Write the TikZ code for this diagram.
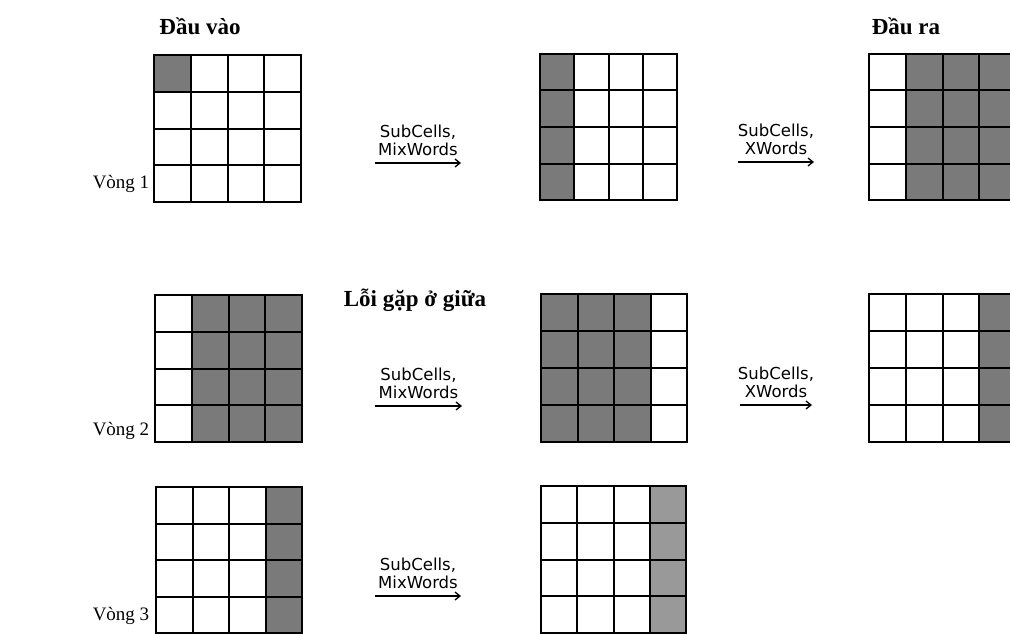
\documentclass[tikz,border=0pt]{standalone}
\usepackage{fontspec}
\setmainfont{Liberation Serif}
\newfontfamily\lblfont{DejaVu Sans}
\usetikzlibrary{arrows.meta}
\tikzset{
  gridline/.style={line width=2pt, black},
  shadedark/.style={fill=black!52},
  shadelight/.style={fill=black!40},
  arr/.style={line width=1.3pt, -{Straight Barb[length=5pt,width=8pt]}},
  oplabel/.style={font=\lblfont\fontsize{16.5}{18}\selectfont, align=center, inner sep=0pt, anchor=south, yshift=7pt},
  header/.style={font=\bfseries\fontsize{23}{26}\selectfont},
  roundlabel/.style={font=\fontsize{19}{22}\selectfont},
}
% #1 x0, #2 y0, #3 x1, #4 y1
\newcommand\mygrid[4]{%
  \draw[gridline] (#1,#2) rectangle (#3,#4);
  \foreach \k in {1,2,3}{%
    \draw[gridline] ({#1+\k*(#3-#1)/4},#2) -- ({#1+\k*(#3-#1)/4},#4);
    \draw[gridline] (#1,{#2+\k*(#4-#2)/4}) -- (#3,{#2+\k*(#4-#2)/4});
  }}
% #1 x0, #2 y0, #3 x1, #4 y1, #5 col start, #6 col end, #7 row start, #8 row end, #9 style
\newcommand\myshade[9]{%
  \fill[#9] ({#1+#5*(#3-#1)/4},{#2+#7*(#4-#2)/4}) rectangle ({#1+#6*(#3-#1)/4},{#2+#8*(#4-#2)/4});}
\begin{document}
\begin{tikzpicture}[x=1pt,y=-1pt]
\useasboundingbox (0,0) rectangle (1010,634);
\clip (0,0) rectangle (1010,634);
\fill[white] (0,0) rectangle (1010,634);

% headers
\node[header] (hin) at (200,26) {Đầu vào};
\node[header] (hout) at (906,26) {Đầu ra};

% round labels
\node[roundlabel] (r1) at (121,184) {Vòng 1};
\node[roundlabel] (r2) at (121,431) {Vòng 2};
\node[roundlabel] (r3) at (121,616) {Vòng 3};

\node[header] (mid) at (415,300) {Lỗi gặp ở giữa};

% row 1
\myshade{154}{55}{301}{202}{0}{1}{0}{1}{shadedark}
\mygrid{154}{55}{301}{202}
\myshade{540}{54}{677}{200}{0}{1}{0}{4}{shadedark}
\mygrid{540}{54}{677}{200}
\myshade{869}{54}{1016}{200}{1}{4}{0}{4}{shadedark}
\mygrid{869}{54}{1016}{200}

% row 2
\myshade{155}{295}{302}{442}{1}{4}{0}{4}{shadedark}
\mygrid{155}{295}{302}{442}
\myshade{541}{294}{687}{442}{0}{3}{0}{4}{shadedark}
\mygrid{541}{294}{687}{442}
\myshade{869}{294}{1016}{442}{3}{4}{0}{4}{shadedark}
\mygrid{869}{294}{1016}{442}

% row 3
\myshade{156}{487}{302}{633}{3}{4}{0}{4}{shadedark}
\mygrid{156}{487}{302}{633}
\myshade{541}{486}{686}{633}{3}{4}{0}{4}{shadelight}
\mygrid{541}{486}{686}{633}

% arrows
\coordinate (a1s) at (375,163); \coordinate (a1e) at (461,163);
\coordinate (a2s) at (738,162); \coordinate (a2e) at (814,162);
\coordinate (a3s) at (375,406); \coordinate (a3e) at (462,406);
\coordinate (a4s) at (740,405); \coordinate (a4e) at (812,405);
\coordinate (a5s) at (375,596); \coordinate (a5e) at (461,596);

\draw[arr] (a1s) -- (a1e) node[oplabel, midway] (l1) {SubCells,\\MixWords};
\draw[arr] (a2s) -- (a2e) node[oplabel, midway] (l2) {SubCells,\\XWords};
\draw[arr] (a3s) -- (a3e) node[oplabel, midway] (l3) {SubCells,\\MixWords};
\draw[arr] (a4s) -- (a4e) node[oplabel, midway] (l4) {SubCells,\\XWords};
\draw[arr] (a5s) -- (a5e) node[oplabel, midway] (l5) {SubCells,\\MixWords};
\end{tikzpicture}
\end{document}
